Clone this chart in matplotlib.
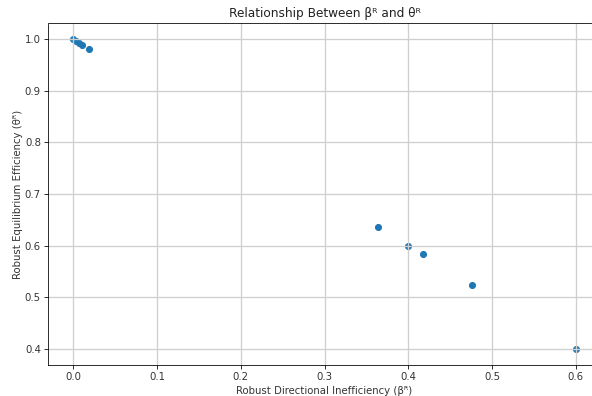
import matplotlib.pyplot as plt

# Данные
beta_r = [0.0, 0.004, 0.007, 0.011, 0.019, 0.364, 0.400, 0.417, 0.476, 0.600]
theta_r = [1.0, 0.996, 0.993, 0.989, 0.981, 0.636, 0.600, 0.583, 0.524, 0.400]

dpi = 72.5
fig = plt.figure(figsize=(592 / dpi, 396 / dpi), dpi=dpi)
# оригинал обрезан справа, поэтому оси выходят за край
ax = fig.add_axes([48 / 592, 31.5 / 396, 553 / 592, 341 / 396])
ax.scatter(beta_r, theta_r, color="#1f77b4")
ax.set_title("Relationship Between βᴿ and θᴿ", color="#222222")
ax.set_xlabel("Robust Directional Inefficiency (βᴿ)", color="#333333")
ax.set_ylabel("Robust Equilibrium Efficiency (θᴿ)", color="#333333", labelpad=2)
ax.tick_params(labelcolor="#333333")
ax.grid(True, color="#cfcfcf", linewidth=1.3)
fig.savefig("out.png", dpi=dpi)
